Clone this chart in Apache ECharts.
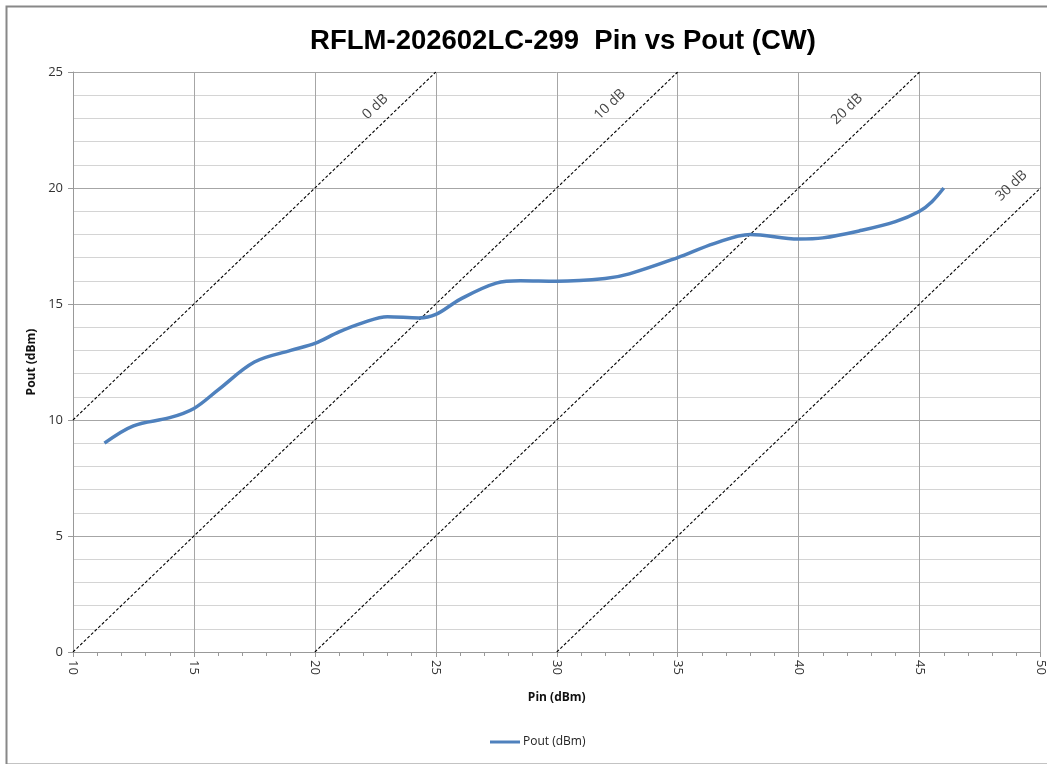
<!DOCTYPE html>
<html>
<head>
<meta charset="utf-8">
<script src="https://cdn.jsdelivr.net/npm/echarts@6/dist/echarts.min.js"></script>
<style>
  body { margin: 0; background: #fff; }
  #chart { width: 1047px; height: 764px; }
</style>
</head>
<body>
<div id="chart"></div>
<script>
// measured curve, Pin (dBm) vs Pout (dBm)
const pin = [11.3, 12.5, 14, 15, 16, 17.5, 19, 20, 21, 22, 23, 24.3, 25, 26, 27.5, 28.5, 30, 32, 33, 35, 36.5, 38, 40, 41, 42.5, 44, 45, 45.5, 46];
const pout = [9.0, 9.75, 10.1, 10.5, 11.3, 12.5, 13.0, 13.3, 13.8, 14.2, 14.45, 14.4, 14.55, 15.2, 15.9, 16.0, 15.98, 16.1, 16.3, 17.0, 17.6, 18.0, 17.8, 17.85, 18.15, 18.55, 19.0, 19.4, 20.0];

// attenuation reference lines (start / end points)
const refNames = ['0 dB', '10 dB', '20 dB', '30 dB'];
const refStart = [[10, 10], [10, 0], [20, 0], [30, 0]];
const refEnd = [[25, 25], [35, 25], [45, 25], [50, 20]];
// where each reference label sits
const refLabelPos = [[22.5, 23.5], [32.2, 23.6], [42.0, 23.4], [48.8, 20.1]];

const chart = echarts.init(document.getElementById('chart'));

const series = [];
refNames.forEach(function (n, i) {
  series.push({
    name: n,
    type: 'line',
    data: [refStart[i], refEnd[i]],
    showSymbol: false,
    silent: true,
    lineStyle: { color: '#000', width: 1.1, type: [3, 2] },
    z: 2
  });
});
series.push({
  name: 'labels',
  type: 'scatter',
  symbolSize: 0,
  silent: true,
  data: refLabelPos.map(function (p, i) { return { value: p, name: refNames[i] }; }),
  label: {
    show: true,
    position: 'inside',
    formatter: '{b}',
    rotate: 44,
    color: '#111',
    fontSize: 14,
    fontFamily: 'Open Sans'
  }
});
series.push({
  name: 'Pout (dBm)',
  type: 'line',
  smooth: 0.35,
  showSymbol: false,
  data: pin.map(function (x, i) { return [x, pout[i]]; }),
  lineStyle: { color: '#4f81bd', width: 3.5 },
  itemStyle: { color: '#4f81bd' },
  z: 5
});

chart.setOption({
  animation: false,
  textStyle: { fontFamily: 'Liberation Sans' },
  title: {
    text: 'RFLM-202602LC-299  Pin vs Pout (CW)',
    left: 558,
    top: 22,
    textAlign: 'center',
    textStyle: { fontSize: 27.5, fontWeight: 'bold', color: '#000', fontFamily: 'Liberation Sans' }
  },
  legend: {
    data: ['Pout (dBm)'],
    left: 485,
    top: 731,
    itemWidth: 30,
    itemHeight: 3,
    itemGap: 10,
    icon: 'rect',
    textStyle: { fontSize: 12, color: '#222', fontFamily: 'Open Sans', padding: [0, 0, 0, -2] }
  },
  grid: { left: 73, right: 6, top: 72, bottom: 112 },
  graphic: [{
    type: 'rect',
    left: 4, top: 4,
    shape: { width: 1060, height: 758 },
    style: { fill: 'none', stroke: '#888', lineWidth: 2 },
    silent: true
  }],
  xAxis: {
    type: 'value',
    min: 10, max: 50, interval: 5,
    name: 'Pin (dBm)',
    nameLocation: 'middle',
    nameGap: 40,
    nameTextStyle: { fontWeight: 'bold', fontSize: 12, color: '#111', fontFamily: 'Open Sans' },
    axisLine: { lineStyle: { color: '#999' } },
    axisTick: { show: true, length: 5, lineStyle: { color: '#999' } },
    minorTick: { show: true, splitNumber: 5, length: 4, lineStyle: { color: '#999' } },
    axisLabel: { rotate: -90, fontSize: 13, color: '#333', margin: 8, fontFamily: 'Open Sans' },
    splitLine: { show: true, lineStyle: { color: '#a6a6a6', width: 1 } }
  },
  yAxis: {
    type: 'value',
    min: 0, max: 25, interval: 5,
    name: 'Pout (dBm)',
    nameLocation: 'middle',
    nameGap: 31,
    nameTextStyle: { fontWeight: 'bold', fontSize: 12, color: '#111', fontFamily: 'Open Sans' },
    axisLine: { show: true, lineStyle: { color: '#999' } },
    axisTick: { show: true, length: 5, lineStyle: { color: '#999' } },
    axisLabel: { fontSize: 13, color: '#333', margin: 10, fontFamily: 'Open Sans' },
    splitLine: { show: true, lineStyle: { color: '#a6a6a6', width: 1 } },
    minorSplitLine: { show: true, lineStyle: { color: '#d4d4d4', width: 1 } },
    minorTick: { show: false, splitNumber: 5 }
  },
  series: series
});
</script>
</body>
</html>
